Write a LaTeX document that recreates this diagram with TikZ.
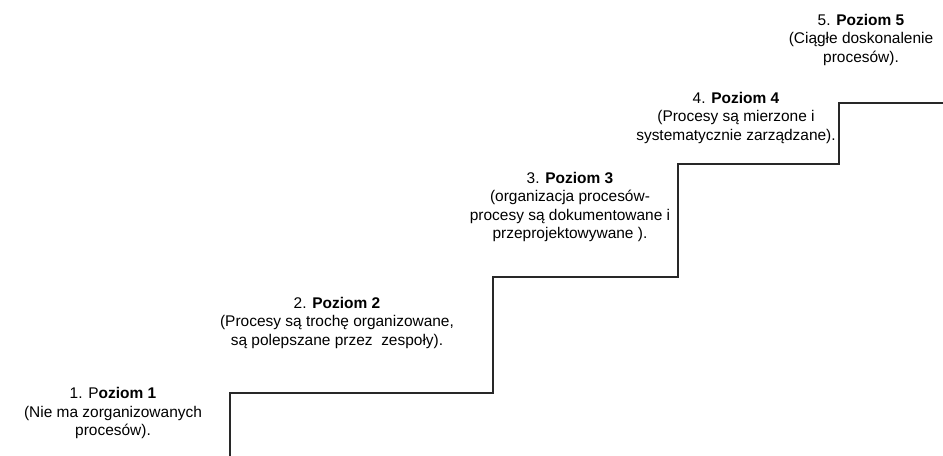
\documentclass[tikz,border=0pt]{standalone}
\usepackage{fontspec}
\setmainfont{Liberation Sans}
\definecolor{stepgray}{RGB}{40, 40, 40}

\begin{document}
\begin{tikzpicture}[x=0.75pt, y=-0.75pt,
  poziom/.style={align=center, inner sep=0pt, font=\fontsize{11.6}{13.9}\selectfont},
  schody/.style={draw=stepgray, line width=0.8pt}]
  \useasboundingbox (0,0) rectangle (943,456);

  % The staircase
  \draw[schody] (230,456) -- (230,393) -- (493,393) -- (493,277) -- (678,277)
    -- (678,164) -- (839,164) -- (839,103) -- (943,103);

  % Levels, from the bottom step up
  \node[poziom] (p1) at (113,413) {1. P\textbf{oziom 1}\\(Nie ma zorganizowanych\\procesów).};
  \node[poziom] (p2) at (337,323) {2. \textbf{Poziom 2}\\(Procesy są trochę organizowane,\\są polepszane przez\ \ zespoły).};
  \node[poziom] (p3) at (570,207) {3. \textbf{Poziom 3}\\(organizacja procesów-\\procesy są dokumentowane i\\przeprojektowywane ).};
  \node[poziom] (p4) at (736,118) {4. \textbf{Poziom 4}\\(Procesy są mierzone i\\systematycznie zarządzane).};
  \node[poziom] (p5) at (861,40) {5. \textbf{Poziom 5}\\(Ciągłe doskonalenie\\procesów).};
\end{tikzpicture}
\end{document}
